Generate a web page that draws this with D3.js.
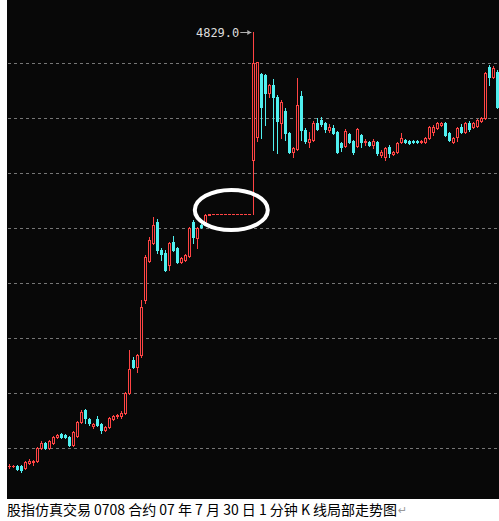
<!DOCTYPE html>
<html>
<head>
<meta charset="utf-8">
<script src="https://cdn.jsdelivr.net/npm/d3@7"></script>
<style>
  html, body { margin: 0; padding: 0; background: #fff; }
  #kline { width: 499px; height: 521px; }
  .grid { stroke: #767676; stroke-width: 1; stroke-dasharray: 3,3; shape-rendering: crispEdges; }
  .wick { stroke-width: 1; shape-rendering: crispEdges; }
  .body { shape-rendering: crispEdges; }
  .peak-label { font-family: "DejaVu Sans Mono", monospace; font-size: 12px; fill: #dcdcdc; }
  .caption { font-family: "Noto Sans CJK SC", sans-serif; font-size: 14px; fill: #000; }
  .para-mark { font-family: "DejaVu Sans", sans-serif; font-size: 11px; fill: #9a9a9a; }
</style>
</head>
<body>
<div id="kline"></div>
<script>
// 1分钟K线数据 (开、高、低、收)
const opens = [
  4612, 4612, 4612, 4612, 4611, 4613.5, 4614, 4614.5, 4621, 4623.5,
  4621, 4623.5, 4626.5, 4628, 4627.5, 4626.5, 4622.5, 4627, 4634, 4640,
  4635.5, 4632, 4635.5, 4633, 4630, 4631.5, 4635.5, 4637, 4637, 4638.5,
  4648.5, 4665, 4661.5, 4667.5, 4695, 4714.5, 4723.5, 4734, 4720, 4718.5,
  4712.5, 4724, 4721, 4714, 4715, 4717, 4734, 4726, 4732.5, 4733.5,
  4737.5, 4738, 4738, 4738, 4738, 4738, 4738, 4738, 4738, 4738,
  4738, 4765, 4776.5, 4808, 4807.5, 4798.5, 4802.5, 4796.5, 4783.5, 4789.5,
  4778.5, 4769, 4770.5, 4797, 4780, 4774, 4775, 4783.5, 4785, 4783.5,
  4780, 4781, 4779, 4773.5, 4772, 4778, 4774.5, 4772, 4777.5, 4774,
  4774, 4772.5, 4774, 4767.5, 4766.5, 4771.5, 4768, 4769, 4774, 4775,
  4774.5, 4774.5, 4774.5, 4774, 4774, 4776, 4779, 4781, 4782.5, 4783.5,
  4778.5, 4774, 4776.5, 4781.5, 4779, 4783.5, 4781.5, 4782, 4784.5, 4786,
  4811.5, 4806.5, 4809
];
const highs = [
  4613, 4612.5, 4612.5, 4612.5, 4614.5, 4615.5, 4615, 4621.5, 4624.5, 4624,
  4625, 4627, 4628, 4628.5, 4628, 4627, 4629.5, 4634.5, 4640, 4640.5,
  4636, 4633.5, 4637, 4633.5, 4632, 4636.5, 4637.5, 4638, 4639.5, 4649,
  4670, 4666.5, 4668, 4695, 4717.5, 4726.5, 4736.5, 4735.5, 4721, 4720,
  4724, 4727, 4721.5, 4716.5, 4718, 4731.5, 4735, 4731.5, 4733, 4738,
  4738, 4738, 4738, 4738, 4738, 4738, 4738, 4738, 4738, 4738,
  4738, 4829, 4814, 4808.5, 4808, 4803, 4805.5, 4797.5, 4795, 4791,
  4779, 4771.5, 4806, 4799.5, 4781, 4779, 4784.5, 4786, 4786.5, 4784,
  4783, 4782.5, 4779.5, 4774, 4780.5, 4778.5, 4775, 4781, 4778, 4775.5,
  4774.5, 4775.5, 4774.5, 4770, 4771.5, 4772.5, 4769.5, 4774, 4778.5, 4775.5,
  4775, 4775, 4775, 4775, 4776.5, 4782, 4782.5, 4784, 4784, 4784,
  4779, 4776.5, 4781.5, 4783, 4784, 4784.5, 4784, 4785.5, 4786.5, 4809,
  4812.5, 4812, 4810
];
const lows = [
  4611, 4611.5, 4610, 4609, 4610.5, 4613, 4612.5, 4614, 4620.5, 4620.5,
  4620.5, 4623, 4626, 4626, 4626, 4622, 4622, 4626.5, 4633.5, 4633.5,
  4632.5, 4631, 4632, 4628.5, 4629.5, 4631, 4635, 4636, 4636, 4638,
  4648, 4661, 4659, 4666.5, 4693.5, 4714, 4723, 4718.5, 4715, 4709.5,
  4710, 4719.5, 4713.5, 4713.5, 4714.5, 4716.5, 4723.5, 4721, 4731, 4733,
  4737.5, 4738, 4738, 4738, 4738, 4738, 4738, 4738, 4738, 4738,
  4738, 4738, 4774.5, 4776, 4782.5, 4796.5, 4770, 4768.5, 4776, 4775,
  4768.5, 4766.5, 4770, 4775, 4773.5, 4771.5, 4774.5, 4780, 4782, 4779,
  4779, 4778, 4768.5, 4769.5, 4771.5, 4773.5, 4768, 4771.5, 4771.5, 4772.5,
  4772, 4771, 4767.5, 4766.5, 4765, 4766.5, 4767.5, 4768.5, 4773.5, 4773.5,
  4773, 4773.5, 4773.5, 4773.5, 4773.5, 4775.5, 4777.5, 4780.5, 4782, 4777,
  4774.5, 4773.5, 4774.5, 4778.5, 4778.5, 4779.5, 4781, 4781.5, 4784, 4785.5,
  4802.5, 4806, 4791
];
const closes = [
  4612, 4612, 4610.5, 4610, 4614, 4614.5, 4614.5, 4621, 4623.5, 4621,
  4624.5, 4626.5, 4627.5, 4626.5, 4626.5, 4622.5, 4629, 4634, 4639, 4636,
  4633.5, 4633, 4632.5, 4630, 4631.5, 4636, 4637, 4637.5, 4638.5, 4648.5,
  4660.5, 4661.5, 4667.5, 4691.5, 4716.5, 4725, 4732.5, 4720, 4718, 4710,
  4723.5, 4720, 4714, 4716, 4717.5, 4731, 4726.5, 4731, 4731.5, 4737.5,
  4738, 4738, 4738, 4738, 4738, 4738, 4738, 4738, 4738, 4738,
  4738, 4813.5, 4814, 4791.5, 4798.5, 4802.5, 4796.5, 4784.5, 4794, 4778.5,
  4769, 4771, 4792.5, 4780, 4774.5, 4775.5, 4783.5, 4780.5, 4783, 4780.5,
  4781.5, 4778.5, 4769, 4771.5, 4779.5, 4774, 4769, 4780.5, 4774, 4774.5,
  4772.5, 4774.5, 4768.5, 4769, 4771, 4768.5, 4769, 4773.5, 4776, 4774,
  4773.5, 4774, 4774, 4774.5, 4776, 4781.5, 4781.5, 4783.5, 4783.5, 4777.5,
  4775, 4776, 4781, 4779, 4783.5, 4780.5, 4783.5, 4785, 4786, 4808.5,
  4806.5, 4811, 4791.5
];

// 水平网格线对应的价位
const gridPrices = [4813.5, 4786, 4758.5, 4731, 4703.5, 4676, 4648.5, 4621];

// 椭圆标注 (K线序号, 价位)
const markIndex = 55.5;
const markPrice = 4740;

const captionText = '股指仿真交易 0708 合约 07 年 7 月 30 日 1 分钟 K 线局部走势图';

(function () {
    'use strict';

    const width = 499;
    const height = 521;
    const plot = { left: 7, right: 499, top: 0, bottom: 499 };

    const UP = '#ff4444';
    const DOWN = '#50f0f0';
    const BG = '#080808';

    const svg = d3.select('#kline').append('svg').attr('width', width).attr('height', height);

    // 黑色绘图区
    svg.append('rect').attr('x', plot.left).attr('y', plot.top)
        .attr('width', plot.right - plot.left).attr('height', plot.bottom - plot.top)
        .attr('fill', BG);

    const xScale = d3.scaleLinear().domain([0, opens.length - 1]).range([9.3, 497.3]);
    const yScale = d3.scaleLinear().domain([4845, 4595]).range([0, 500]);

    // 网格
    svg.append('g').selectAll('line').data(gridPrices).enter().append('line')
        .attr('class', 'grid')
        .attr('x1', plot.left + 1).attr('x2', plot.right)
        .attr('y1', function (d) { return Math.round(yScale(d)) + 0.5; })
        .attr('y2', function (d) { return Math.round(yScale(d)) + 0.5; });

    const candles = opens.map(function (o, i) {
        return { i: i, o: o, h: highs[i], l: lows[i], c: closes[i] };
    });

    const g = svg.append('g').attr('class', 'candles');

    candles.forEach(function (d) {
        const left = Math.round(xScale(d.i) - 1.5);
        const up = d.c >= d.o;
        const color = up ? UP : DOWN;
        const yh = Math.round(yScale(d.h));
        const yl = Math.round(yScale(d.l));
        const top = Math.round(yScale(Math.max(d.o, d.c)));
        const bottom = Math.round(yScale(Math.min(d.o, d.c)));

        if (yl > yh) {
            g.append('line').attr('class', 'wick')
                .attr('x1', left + 1.5).attr('x2', left + 1.5)
                .attr('y1', yh).attr('y2', yl + 1)
                .attr('stroke', color);
        }

        if (bottom - top < 1) {
            g.append('rect').attr('class', 'body')
                .attr('x', left).attr('y', top).attr('width', 3).attr('height', 1)
                .attr('fill', color);
        } else if (up) {
            // 阳线空心
            g.append('rect').attr('class', 'body')
                .attr('x', left + 0.5).attr('y', top + 0.5)
                .attr('width', 2).attr('height', bottom - top)
                .attr('fill', BG).attr('stroke', color).attr('stroke-width', 1);
        } else {
            // 阴线实心
            g.append('rect').attr('class', 'body')
                .attr('x', left).attr('y', top)
                .attr('width', 3).attr('height', bottom - top + 1)
                .attr('fill', color);
        }
    });

    // 最高价标注
    const peakIdx = d3.maxIndex(highs);
    const peakX = xScale(peakIdx);
    const peakY = Math.round(yScale(highs[peakIdx])) + 0.5;

    svg.append('text').attr('class', 'peak-label')
        .attr('x', peakX - 14).attr('y', peakY + 4.5)
        .attr('text-anchor', 'end')
        .text(highs[peakIdx].toFixed(1));

    svg.append('line')
        .attr('x1', peakX - 13).attr('x2', peakX - 2)
        .attr('y1', peakY).attr('y2', peakY)
        .attr('stroke', '#b0b0b0').attr('stroke-width', 1);

    svg.append('path')
        .attr('d', 'M' + (peakX - 2) + ',' + peakY + 'l-4,-2.5v5z')
        .attr('fill', '#b0b0b0');

    // 白色椭圆
    svg.append('ellipse')
        .attr('cx', xScale(markIndex)).attr('cy', yScale(markPrice))
        .attr('rx', 36.5).attr('ry', 20)
        .attr('fill', 'none').attr('stroke', '#fff').attr('stroke-width', 4);

    // 图注
    svg.append('text').attr('class', 'caption')
        .attr('x', 7).attr('y', 515)
        .attr('textLength', 390).attr('lengthAdjust', 'spacing')
        .text(captionText);

    svg.append('text').attr('class', 'para-mark')
        .attr('x', 398).attr('y', 514)
        .text('\u21B5');

}());
</script>
</body>
</html>
